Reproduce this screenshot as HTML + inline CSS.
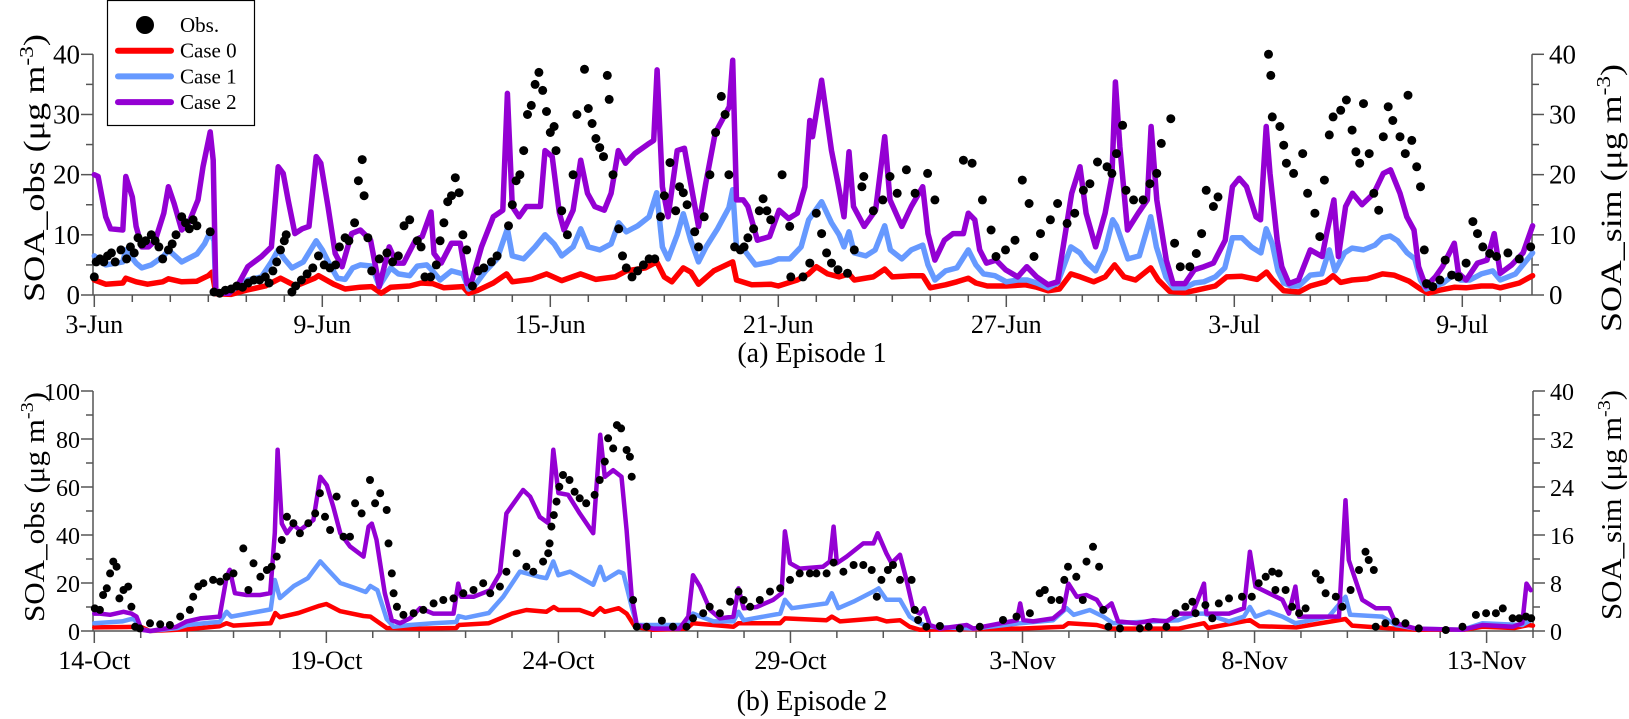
<!DOCTYPE html>
<html><head><meta charset="utf-8"><style>
html,body{margin:0;padding:0;background:#fff;}
svg{display:block;font-family:"Liberation Serif","Times New Roman",serif;}
</style></head><body>
<svg id="chart" width="1629" height="719" viewBox="0 0 1629 719" xmlns="http://www.w3.org/2000/svg"></svg>
<script>
// ---------- Episode 1 data (day offset from 3-Jun 00:00) ----------
const ep1Case2Day=[0,0.1,0.3,0.43,0.75,0.83,1.0,1.1,1.25,1.43,1.6,1.83,1.95,2.1,2.3,2.5,2.73,2.86,3.05,3.13,3.2,3.55,3.8,4.04,4.4,4.66,4.84,4.97,5.1,5.28,5.47,5.65,5.84,5.96,6.15,6.34,6.52,6.77,7.0,7.27,7.5,7.76,7.95,8.14,8.45,8.63,8.86,8.94,9.13,9.4,9.63,9.81,9.94,10.19,10.5,10.75,10.87,11.0,11.18,11.37,11.74,11.86,12.05,12.24,12.36,12.6,12.8,12.98,13.17,13.42,13.6,13.79,13.98,14.22,14.6,14.72,14.81,14.95,15.1,15.34,15.53,15.71,15.9,16.09,16.34,16.71,16.8,16.9,17.08,17.2,17.45,17.77,18.02,18.27,18.5,18.7,18.83,18.9,19.14,19.4,19.57,19.73,19.86,19.98,20.26,20.56,20.8,20.94,21.25,21.5,21.8,21.94,22.12,22.37,22.6,22.87,23.0,23.17,23.3,23.48,23.73,23.98,24.3,24.54,24.8,25.1,25.35,25.72,25.94,26.1,26.35,26.6,26.78,26.87,26.99,27.19,27.47,27.71,27.81,27.96,28.21,28.39,28.7,28.95,29.2,29.45,29.76,29.95,30.13,30.32,30.57,30.69,30.84,30.94,31.13,31.25,31.44,31.69,32.0,32.31,32.43,32.62,32.74,32.93,33.11,33.36,33.67,33.92,34.11,34.36,34.54,34.73,34.85,35.04,35.29,35.48,35.79,35.9,36.1,36.4,36.65,36.84,37.0,37.3,37.6,37.85];
const ep1Case2Val=[20,19.7,13,11,10.8,19.7,16.3,11.4,8,8,9,13.6,18,15.2,10.8,12.2,15.8,21.3,27.1,22.4,0.3,0.3,1.9,4.7,6.4,8,21.3,20.2,15.8,10.2,11,11.4,23,21.9,14.7,6.9,4.7,10.2,10.8,9.1,1.4,8,5.3,5.3,9.1,9.7,13.8,6.9,5.3,8.6,8.6,1.9,2.5,8,13,14.1,33.5,14.7,13,14.7,14.7,24,23,13.6,10.8,14.1,22.4,16.9,14.7,14.1,16.9,24,21.9,23.5,25.2,25.7,37.4,18,13,24,24.4,18,11.4,18.5,26.9,31.3,39,15.8,15.8,14.7,9.1,9.7,14.1,12.7,13.6,18,29,26.3,35.7,24,18.5,13,23.8,14.7,11.4,14.1,26.3,15.8,11.4,14.7,18,10.2,5.8,9.1,10.2,10.2,13.6,12.5,7.5,5.3,5.8,4.2,3,4.7,3,1.7,2.2,16.9,21.3,13.6,8,13.6,19.7,35.4,24.6,10.8,13.6,15.8,28,15.8,5.8,1.9,1.9,4.2,4.7,5.3,9.1,18,19.4,18,13,12.5,28,20.2,9.1,4.7,1.9,2.5,7.5,6.4,10.2,15.8,6.4,14.7,16.9,15,16.9,20.2,20.8,16.9,13,10.8,4.7,1.4,3,4.7,8.6,3.6,2.5,5.3,5.8,10.2,3.6,5,7,11.5];
const ep1Case1Day=[0,0.3,0.75,0.83,1.1,1.25,1.5,1.83,1.95,2.3,2.7,2.9,3.05,3.15,3.2,3.55,3.8,4.04,4.4,4.66,4.84,5.0,5.2,5.5,5.84,6.0,6.2,6.4,6.6,6.8,7.0,7.3,7.5,7.8,8.0,8.3,8.5,8.75,8.9,9.1,9.4,9.7,9.85,10.0,10.3,10.6,10.87,11.0,11.3,11.6,11.86,12.1,12.3,12.6,12.8,13.0,13.3,13.6,13.8,14.0,14.3,14.6,14.8,14.95,15.1,15.34,15.5,15.7,15.9,16.1,16.4,16.7,16.8,16.9,17.1,17.4,17.8,18.0,18.3,18.6,18.8,19.14,19.4,19.6,19.73,19.86,20.0,20.3,20.55,20.8,20.95,21.25,21.5,21.8,21.94,22.12,22.4,22.7,23.0,23.2,23.4,23.7,24.0,24.3,24.55,24.8,25.1,25.35,25.7,25.94,26.1,26.35,26.6,26.8,26.9,27.2,27.5,27.8,27.95,28.2,28.4,28.7,28.95,29.2,29.5,29.75,29.95,30.2,30.45,30.7,30.84,31.0,31.15,31.3,31.5,31.7,32.0,32.3,32.5,32.65,32.9,33.1,33.4,33.7,33.9,34.1,34.3,34.55,34.75,34.9,35.05,35.3,35.5,35.8,35.95,36.2,36.5,36.8,37.0,37.4,37.85];
const ep1Case1Val=[6.5,5,5.5,7.5,5.3,4.5,5,6.5,7.5,5.5,6.8,8.5,10.5,9,0.3,0.5,1.5,2.5,3,5.5,7.5,6,4.5,5.5,9,7.5,5,2.8,2.6,4.5,5,4.8,1.5,4.5,3.5,3.2,4.8,5,4,2.5,4,3.5,1,1.5,4,6,11,6.5,6,8,10,8.5,6.5,8,11,8,7.5,8.5,12,10.5,11.5,13,17,8,6,10,13.5,9,5.5,8,11,14.5,17.5,8,7.5,5,5.5,6,6,8,12.5,15.5,12,10,8,10.5,7,6.5,7.5,11.5,7.5,6,7.5,8.3,5,2.5,4,4.5,7.5,5,3.5,3.2,2.2,2.5,2.5,2,1.2,2,8,7,5.5,4,7.5,12.5,11.5,6,6.5,13,8,3,1.2,1.2,2,2.2,3,4.5,9.5,9.5,8,7,11,8.5,4,2,1.5,1.5,3.3,3.5,7.5,4,7,7.8,7.5,8.3,9.5,9.8,9,7,6,2.5,1,1.5,2,3.5,2.5,2.5,3.5,4,2.5,3.5,7];
const ep1Case0Day=[0,0.3,0.75,0.83,1.1,1.4,1.8,1.95,2.3,2.7,3.0,3.1,3.2,3.6,4.0,4.5,4.9,5.3,5.8,5.9,6.3,6.6,7.0,7.3,7.55,7.8,8.3,8.6,8.9,9.2,9.7,9.85,10.1,10.5,10.85,11.0,11.5,11.9,12.3,12.8,13.2,13.7,14.0,14.5,14.8,15.0,15.2,15.5,15.7,15.9,16.3,16.8,16.9,17.3,17.8,18.0,18.5,18.8,19.0,19.3,19.6,19.86,20.0,20.5,20.8,21.0,21.5,21.8,22.0,22.4,22.7,23.0,23.2,23.5,24.0,24.5,24.8,25.1,25.4,25.7,25.95,26.3,26.6,26.85,27.1,27.4,27.8,28.0,28.3,28.7,29.0,29.5,29.8,30.2,30.6,30.85,31.0,31.3,31.7,32.0,32.4,32.6,32.8,33.1,33.5,33.9,34.2,34.6,34.9,35.1,35.4,35.8,36.1,36.5,36.8,37.0,37.5,37.85];
const ep1Case0Val=[2.5,1.8,2,2.8,2.2,1.8,2.2,2.7,2.2,2.3,3.2,3.8,0.2,0.1,0.8,1.5,2.8,1.5,2.8,3.2,1.8,1,1.3,1.4,0.3,1.3,1.5,2,1.9,1.2,1.4,0.3,0.8,2,3.5,2.2,2.6,3.5,2.4,3.5,2.6,3,4,4.5,5.5,3,2.2,4.5,3.8,1.8,4,5.5,2.5,1.7,1.8,1.5,2.5,3.5,4.7,3.5,3,3.5,2.5,3,4.3,3,3.2,3.2,1.2,1.7,2.2,2.8,2,1.5,1.5,1.7,1.3,0.7,1,3.5,3,2.2,3,5,3,2.5,4.5,2.5,0.6,0.4,0.8,1.5,3,3.1,2.6,3.8,2.6,0.7,0.5,1.5,2.2,3.2,2.1,2.5,2.7,3.5,3.3,2.3,1,0.3,0.8,1.3,1.2,1.5,1.5,1.2,2,3.2];
const ep1ObsDay=[0.0,0.05,0.15,0.25,0.35,0.45,0.55,0.7,0.85,0.95,1.05,1.15,1.25,1.35,1.5,1.6,1.7,1.8,1.95,2.05,2.15,2.3,2.4,2.5,2.6,2.7,3.05,3.15,3.3,3.45,3.6,3.75,3.9,4.05,4.2,4.35,4.5,4.6,4.7,4.8,4.9,5.0,5.05,5.2,5.3,5.45,5.6,5.75,5.9,6.05,6.2,6.35,6.45,6.6,6.7,6.85,6.95,7.05,7.1,7.2,7.3,7.5,7.7,7.85,8.0,8.15,8.3,8.5,8.6,8.7,8.85,9.0,9.1,9.2,9.3,9.4,9.5,9.6,9.7,9.8,9.95,10.1,10.25,10.45,10.6,10.9,11.0,11.1,11.2,11.3,11.4,11.5,11.6,11.7,11.8,11.9,12.0,12.1,12.15,12.3,12.45,12.6,12.7,12.9,13.0,13.1,13.2,13.3,13.4,13.5,13.55,13.65,13.8,13.9,14.0,14.15,14.3,14.45,14.6,14.75,14.9,15.0,15.15,15.3,15.4,15.5,15.6,15.8,15.9,16.05,16.2,16.35,16.5,16.6,16.7,16.85,17.0,17.1,17.2,17.35,17.5,17.6,17.7,17.8,18.1,18.3,18.33,18.65,18.83,19.0,19.14,19.27,19.4,19.57,19.82,20.0,20.2,20.25,20.5,20.75,20.94,21.13,21.37,21.6,21.93,22.12,22.87,23.1,23.37,23.6,23.73,23.98,24.23,24.42,24.6,24.73,24.9,25.16,25.35,25.6,25.8,26.03,26.2,26.4,26.65,26.78,26.9,27.06,27.15,27.35,27.6,27.78,27.96,28.08,28.33,28.43,28.58,28.83,29.0,29.14,29.26,29.45,29.57,30.9,30.96,31.0,31.2,31.3,31.37,31.56,31.8,31.93,32.12,32.25,32.37,32.5,32.6,32.8,32.95,33.1,33.2,33.3,33.4,33.55,33.67,33.8,33.92,34.05,34.17,34.36,34.5,34.57,34.67,34.8,34.9,35.0,35.06,35.22,35.41,35.55,35.72,35.9,36.1,36.28,36.4,36.54,36.72,36.9,37.2,37.5,37.8];
const ep1ObsVal=[3,5.5,6,5.5,6.5,7,5.5,7.5,6,8,7,9.5,8.5,9,10,9,8,6,7.5,8.5,10,13,12,11,12.5,11.5,10.5,0.5,0.3,0.8,1,1.5,1.3,2,2.5,2.5,3,2,4,5.5,7.5,9,10,0.5,1.5,2.5,3.5,4.5,6.5,5,4.5,5,8,9.5,9,12,19,22.5,16.5,9.5,4,6,7,5.5,6.5,11.5,12.5,9,8,3,3,5,9,12,15.5,16.5,19.5,17,10,7.5,1.5,4,4.5,5.5,6.5,11.5,15,19,20,24,30,31.5,35,37,34,30.5,27,28,24,14,10,20,30,37.5,31,28.5,26,24.5,23,36.5,32.5,20,11,6.5,4.5,3,4,5,6,6,13,16.5,22,14,18,17,15,10.5,8,13,20,27,33,30,20,8,7.5,8,9.5,11,14,16,14,12.5,20,11.4,3,3,5.3,13.6,10.2,7,5.3,4.2,3.6,7.5,18,19.7,14,15.8,19.7,16.9,20.8,16.9,20.2,15.8,22.4,21.9,15.8,10.8,6.4,7.5,9.1,19.1,15.2,6.4,10.2,12.5,15.2,11.9,13.6,17.4,18.5,22.1,21.3,20.2,23.5,28.2,17.4,15.8,15.8,18.5,20.2,25.2,29.3,8.6,4.7,4.7,6.9,10.2,17.4,14.7,16.3,40,36.5,29.6,28,24.9,21.9,20.2,23.5,16.9,13.6,9.7,19.1,26.6,29.6,30.7,32.4,27.4,23.8,21.9,31.8,23.5,16.9,14.1,26.3,31.3,29,26.3,23.5,33.2,25.7,21.3,18,7.5,1.9,1.4,2.5,5.8,3.3,3,5.3,12.2,10.2,8,6.9,6.4,7,6,8];

// ---------- Episode 2 data (day offset from 14-Oct 00:00) ----------
const ep2Case2Day=[0,0.12,0.34,0.63,0.8,0.91,1.02,1.2,1.77,1.99,2.28,2.7,2.85,2.92,3.03,3.28,3.57,3.79,3.89,3.95,4.04,4.15,4.29,4.43,4.72,4.87,5.01,5.15,5.3,5.51,5.8,5.91,5.98,6.08,6.26,6.41,6.59,6.8,7.02,7.3,7.74,7.84,7.91,8.17,8.53,8.74,8.88,9.24,9.39,9.6,9.78,9.89,10.0,10.21,10.46,10.75,10.9,11.0,11.18,11.36,11.47,11.58,11.69,12.04,12.61,12.8,12.9,13.05,13.27,13.48,13.77,13.88,13.99,14.27,14.63,14.81,14.88,14.99,15.2,15.7,15.85,15.93,16.0,16.21,16.57,16.79,16.88,17.07,17.18,17.36,17.5,17.65,17.79,17.88,18.0,18.22,18.8,18.94,19.88,19.95,20.02,20.23,20.66,20.88,20.99,21.17,21.38,21.6,21.74,21.92,22.06,22.46,22.82,23.1,23.37,23.66,23.91,23.96,24.45,24.77,24.9,25.02,25.31,25.6,25.74,25.88,25.96,26.32,26.82,26.96,27.03,27.32,27.61,27.9,28.04,28.47,29.48,29.91,30.56,30.77,30.86,30.95];
const ep2Case2Val=[2.9,2.9,2.7,3.2,2.9,2.4,0.2,0,0.7,1.6,2.1,2.4,9,10.2,6.3,6,6,6.3,16.3,30.2,17.9,16.3,17.7,16.8,18.5,25.7,24.3,20.7,16.3,14.1,12.4,17.4,17.9,15.2,6.3,1.8,1.3,2.1,3.8,2.9,2.9,7.9,5.7,5.7,6.8,9.6,19.6,23.5,22.4,19,18,30.2,23,22.7,19.6,16.3,32.7,25.7,26.8,25.7,16.8,5.7,1,0.4,0.4,2.4,9.3,7.4,3.5,2.1,2.4,7.1,3.8,4,5.2,6.3,16.6,11.3,10.4,10.7,11.6,17.4,11.3,12.4,14.6,14.6,16.3,12.9,11.3,12.7,8.5,3.5,2.9,3.8,1,0.4,1,0.4,1.8,4.6,1.8,1.6,2.1,3.5,7.9,5.7,6,5.2,3.5,4.6,1.6,1.3,1.8,1.6,2.9,2.9,7.9,2.9,2.9,3.8,13.2,7.4,6.3,5.2,2.9,7.4,2.4,2.4,2.4,21.8,11.8,5.2,3.8,3.8,1.3,0.4,0.2,1,0.7,1.3,7.9,6.8];
const ep2Case1Day=[0,0.6,0.85,1.0,1.2,1.8,2.0,2.5,2.7,2.85,2.95,3.3,3.8,3.89,4.0,4.3,4.6,4.87,5.0,5.3,5.6,5.85,5.95,6.1,6.3,6.45,6.8,7.3,7.8,7.85,8.0,8.5,8.81,9.17,9.6,9.74,9.89,10.0,10.25,10.75,10.9,11.0,11.3,11.4,11.58,11.69,12.76,12.9,13.34,13.77,13.88,13.99,14.78,14.88,15.03,15.78,15.89,16.03,16.36,16.79,16.9,17.07,17.36,17.57,17.79,18.0,18.94,19.95,20.66,20.95,21.1,21.45,21.74,21.95,23.36,23.73,23.91,24.45,24.77,24.9,25.02,25.31,25.6,25.88,26.6,26.96,27.06,27.75,28.04,28.47,29.48,29.91,30.77,30.95];
const ep2Case1Val=[1.3,1.6,2.1,0.3,0,0.5,1,1.4,1.5,3.2,2.4,2.9,3.6,8.5,5.5,7.5,8.8,11.6,10.5,8,7.2,6.5,7.5,6.8,2,0.7,1,1.3,1.5,2.5,2.2,3,5.7,9.9,9,8.8,11.6,9.3,9.9,7.7,10.7,8.5,9.9,9.6,4,1,1,2.9,1.6,1.6,3.2,1.8,2.9,5.2,3.8,4.6,6.3,3.8,4.9,6.6,7.1,5.2,5.2,2.4,1.3,0.7,0.4,1.3,1.8,3.8,2.7,3.5,2.4,1.3,1.8,2.9,2.9,1.6,2.4,4,2.4,3.2,2.4,1.3,2.4,5.7,2.7,2.4,1,0.4,0.2,1.3,1,1.8];
const ep2Case0Day=[0,1.0,1.2,2.0,2.7,2.85,3.0,3.8,3.9,4.0,4.4,4.85,5.0,5.3,5.8,5.95,6.3,7.0,7.8,7.85,8.5,9.0,9.31,9.74,9.9,10.0,10.46,10.75,10.9,11.0,11.3,11.47,11.65,12.04,12.76,12.9,13.77,13.88,14.78,14.88,15.78,15.89,16.07,16.86,17.07,17.36,17.57,17.79,19.95,20.88,20.99,21.6,21.88,23.37,23.91,24.0,24.9,25.1,25.9,26.96,27.1,28.0,28.5,29.5,29.91,30.6,30.9,31.0];
const ep2Case0Val=[0.6,0.7,0,0.3,0.8,1.3,0.9,1.3,3,2.3,3,4.2,4.5,3.3,2.5,2.4,0.5,0.4,0.5,1,1.3,2.9,3.5,3.2,4,3.5,3.5,2.7,3.8,3.2,3.8,2.9,0.7,0.2,0.4,1.3,0.7,1.3,1.3,2.1,1.8,2.4,1.6,2.1,1.6,1.8,0.7,0.2,0.4,0.7,1.3,1,0.4,0.4,1.3,0.5,1.8,0.8,0.6,2,0.9,0.4,0.2,0.2,0.7,0.5,1,0.9];
const ep2ObsDay=[0.01,0.12,0.19,0.27,0.34,0.41,0.48,0.54,0.63,0.73,0.8,0.88,0.98,1.2,1.42,1.63,1.85,2.06,2.13,2.24,2.35,2.56,2.71,2.85,3.0,3.21,3.32,3.43,3.58,3.72,3.82,3.93,4.04,4.15,4.29,4.43,4.61,4.76,4.86,4.97,5.08,5.22,5.37,5.51,5.62,5.76,5.94,6.05,6.16,6.3,6.34,6.41,6.45,6.52,6.66,6.88,7.09,7.31,7.52,7.74,7.95,8.17,8.38,8.53,8.74,8.88,9.1,9.31,9.46,9.67,9.78,9.81,9.85,9.9,9.96,10.02,10.1,10.24,10.35,10.46,10.6,10.78,10.89,11.0,11.07,11.18,11.26,11.35,11.47,11.54,11.58,11.61,11.69,11.9,12.23,12.47,12.76,12.9,13.12,13.26,13.48,13.7,13.88,13.99,14.13,14.34,14.56,14.78,14.99,15.2,15.42,15.56,15.78,15.93,16.14,16.36,16.57,16.75,16.86,16.96,17.1,17.21,17.36,17.61,17.68,17.75,17.93,18.22,18.65,19.08,19.58,19.87,20.16,20.37,20.48,20.62,20.8,20.9,20.98,21.16,21.3,21.38,21.52,21.65,21.74,21.85,22.1,22.53,22.72,23.1,23.3,23.51,23.66,23.73,23.94,24.09,24.23,24.45,24.73,24.94,25.09,25.24,25.38,25.45,25.52,25.67,25.81,25.96,26.1,26.32,26.42,26.53,26.75,26.89,27.07,27.25,27.39,27.46,27.57,27.61,27.82,28.04,28.25,28.54,29.12,29.48,29.77,29.99,30.2,30.35,30.56,30.7,30.85,30.96];
const ep2ObsVal=[9.4,8.8,15,17.8,24,28.9,26.8,13.6,17.1,18.5,10.1,1.8,1.1,3.2,2.8,2.5,6,8.8,14.3,18.5,19.9,21.3,20.6,22.6,24,34.4,17.1,28.2,22.6,25.4,26.8,31,37.9,47.6,44.9,40.7,44.9,49,57.4,47.6,42.1,56,39.3,39.3,53.2,49,62.9,53.2,57.4,50.4,36.5,24,15.7,10.1,6.7,7.4,8.8,11.5,12.9,13.6,15.7,17.1,19.9,15.7,18.5,24.7,32.4,26.8,24.7,28.9,32.4,36.5,43.5,48.3,53.9,60.1,65,62.9,58,55.3,53.2,56.7,62.9,70.6,80.3,76.1,85.8,84.4,75.4,72.6,64.3,12.9,1.8,1.8,4.3,1.8,1.8,5.3,7.4,10.1,7.4,12.2,16.4,12.9,10.1,12.9,16.4,17.8,21.3,24,24,24,24,28.5,24.7,27.5,27.5,25.4,14.3,21.3,25.4,27.5,21.3,21.3,8.8,4.6,1.8,2.1,1.1,1.8,4.6,6,7.4,15.7,17.1,12.9,12.9,21.3,26.8,22.6,12.9,28.9,35.1,26.8,8.8,1.8,1.1,1.1,1.8,1.8,7.4,10.1,12.2,7.4,10.8,5.3,11.5,13.6,14.3,14.3,19.9,22.6,24.7,17.1,24,17.1,10.1,7.4,9.4,24,21.3,15.7,14.3,10.1,17.1,25.4,33,29.6,25.4,1.8,3.2,3.9,3.2,1.1,0.4,1.8,6.7,7.4,7.4,9.4,5.3,5.3,6,5.3];

// ---------- Tick labels ----------
const ep1DateLabels=["3-Jun","9-Jun","15-Jun","21-Jun","27-Jun","3-Jul","9-Jul"];
const ep1DateDays=[0,6,12,18,24,30,36];
const ep1ObsTicks=[0,10,20,30,40];
const ep1SimTicks=[0,10,20,30,40];
const ep2DateLabels=["14-Oct","19-Oct","24-Oct","29-Oct","3-Nov","8-Nov","13-Nov"];
const ep2DateDays=[0,5,10,15,20,25,30];
const ep2ObsTicks=[0,20,40,60,80,100];
const ep2SimTicks=[0,8,16,24,32,40];

const NS="http://www.w3.org/2000/svg";
const svg=document.getElementById('chart');
function mk(tag,attrs,parent){const e=document.createElementNS(NS,tag);for(const k in attrs)e.setAttribute(k,attrs[k]);(parent||svg).appendChild(e);return e;}

function panel(cfg){
  const g=mk('g',{});
  
  
  const X=d=>cfg.x0+d*cfg.pxDay;
  const YL=v=>cfg.yb-(v/cfg.obsMax)*(cfg.yb-cfg.yt);
  const YR=v=>cfg.yb-(v/cfg.simMax)*(cfg.yb-cfg.yt);
  const ax=mk('g',{stroke:'#555','stroke-width':1.5,fill:'none'},g);
  
  
  mk('line',{x1:cfg.xl,y1:cfg.yt,x2:cfg.xl,y2:cfg.yb},ax);
  mk('line',{x1:cfg.xr,y1:cfg.yt,x2:cfg.xr,y2:cfg.yb},ax);
  mk('line',{x1:cfg.xl,y1:cfg.yb,x2:cfg.xr,y2:cfg.yb},ax);
  for(let d=0;X(d)<=cfg.xr+0.5;d++){
    const major=cfg.dateDays.includes(d);
    mk('line',{x1:X(d),y1:cfg.yb,x2:X(d),y2:cfg.yb+(major?12:7)},ax);
  }
  cfg.dateDays.forEach((d,i)=>{
    const t=mk('text',{x:X(d),y:cfg.yb+38,'text-anchor':'middle','font-size':26,fill:'#000'},g);
    t.textContent=cfg.dateLabels[i];
    
    
  });
  const ls=cfg.obsTicks[1]-cfg.obsTicks[0];
  cfg.obsTicks.forEach((v,i)=>{
    mk('line',{x1:cfg.xl-12,y1:YL(v),x2:cfg.xl,y2:YL(v)},ax);
    if(i<cfg.obsTicks.length-1) mk('line',{x1:cfg.xl-7,y1:YL(v+ls/2),x2:cfg.xl,y2:YL(v+ls/2)},ax);
    const t=mk('text',{x:cfg.xl-13,y:YL(v)+9,'text-anchor':'end','font-size':cfg.tickFont,fill:'#000'},g);
    t.textContent=v;
    
    
  });
  const rs=cfg.simTicks[1]-cfg.simTicks[0];
  cfg.simTicks.forEach((v,i)=>{
    mk('line',{x1:cfg.xr,y1:YR(v),x2:cfg.xr+12,y2:YR(v)},ax);
    if(i<cfg.simTicks.length-1) mk('line',{x1:cfg.xr,y1:YR(v+rs/2),x2:cfg.xr+7,y2:YR(v+rs/2)},ax);
    const t=mk('text',{x:cfg.xr+17,y:YR(v)+9,'text-anchor':'start','font-size':cfg.tickFont,fill:'#000'},g);
    t.textContent=v;
    
    
  });
  function ytitle(x,y,main,name){
    const t=mk('text',{transform:`translate(${x},${y}) rotate(-90)`,'text-anchor':'middle','font-size':cfg.titleFont,fill:'#000',textLength:cfg.titleLen,lengthAdjust:'spacingAndGlyphs'},g);
    
    
    t.appendChild(document.createTextNode(main+' (μg m'));
    const s=mk('tspan',{dy:-11,'font-size':cfg.titleFont*0.65},t); s.textContent='-3';
    const s2=mk('tspan',{dy:11},t); s2.textContent=')';
  }
  ytitle(44,cfg.titleYL,'SOA_obs','left-y-axis-title');
  ytitle(1621,cfg.titleYR,'SOA_sim','right-y-axis-title');
  function line(days,vals,color,w,name){
    const p=mk('polyline',{points:days.map((d,i)=>X(d).toFixed(1)+','+YR(vals[i]).toFixed(1)).join(' '),fill:'none',stroke:color,'stroke-width':w,'stroke-linejoin':'round','stroke-linecap':'round'},g);
    
    
  }
  line(cfg.c0d,cfg.c0v,'#ff0000',cfg.lw,cfg.name+'-case0-line');
  line(cfg.c1d,cfg.c1v,'#6699ff',cfg.lw,cfg.name+'-case1-line');
  line(cfg.c2d,cfg.c2v,'#9400d3',cfg.lw,cfg.name+'-case2-line');
  const og=mk('g',{fill:'#000'},g);
  
  
  cfg.od.forEach((d,i)=>{
    const c=mk('circle',{cx:X(d).toFixed(1),cy:YL(cfg.ov[i]).toFixed(1),r:cfg.dotR},og);
    
    
  });
  const tt=mk('text',{x:812,y:cfg.captionY,'text-anchor':'middle','font-size':28,fill:'#000'},g);
  tt.textContent=cfg.caption;
  
  
}

panel({name:'episode1-panel',x0:94.3,pxDay:38,xl:93,xr:1532,yt:54.3,yb:295,obsMax:40,simMax:40,
  dateDays:ep1DateDays,dateLabels:ep1DateLabels,obsTicks:ep1ObsTicks,simTicks:ep1SimTicks,tickFont:27,
  titleFont:30,titleLen:268,titleYL:168,titleYR:198,
  c0d:ep1Case0Day,c0v:ep1Case0Val,c1d:ep1Case1Day,c1v:ep1Case1Val,c2d:ep1Case2Day,c2v:ep1Case2Val,
  od:ep1ObsDay,ov:ep1ObsVal,lw:5.5,dotR:4.5,caption:'(a) Episode 1',captionY:362});
panel({name:'episode2-panel',x0:94.3,pxDay:46.41,xl:93,xr:1533,yt:391,yb:631,obsMax:100,simMax:40,
  dateDays:ep2DateDays,dateLabels:ep2DateLabels,obsTicks:ep2ObsTicks,simTicks:ep2SimTicks,tickFont:24,
  titleFont:28,titleLen:230,titleYL:507,titleYR:505,
  c0d:ep2Case0Day,c0v:ep2Case0Val,c1d:ep2Case1Day,c1v:ep2Case1Val,c2d:ep2Case2Day,c2v:ep2Case2Val,
  od:ep2ObsDay,ov:ep2ObsVal,lw:4.5,dotR:4,caption:'(b) Episode 2',captionY:710});

const lg=mk('g',{});


mk('rect',{x:107.5,y:0.5,width:147,height:125,fill:'#fff',stroke:'#000','stroke-width':1.2},lg);
const legItems=[['Obs.','dot','#000'],['Case 0','line','#ff0000'],['Case 1','line','#6699ff'],['Case 2','line','#9400d3']];
legItems.forEach((it,i)=>{
  const y=25+i*25.7;
  const e=mk('g',{},lg);
  
  
  if(it[1]==='dot') mk('circle',{cx:145,cy:y,r:9,fill:'#000'},e);
  else mk('line',{x1:118,y1:y,x2:171,y2:y,stroke:it[2],'stroke-width':6,'stroke-linecap':'round'},e);
  const t=mk('text',{x:180,y:y+7,'font-size':21,fill:'#000'},e);
  t.textContent=it[0];
});
</script>
</body></html>
